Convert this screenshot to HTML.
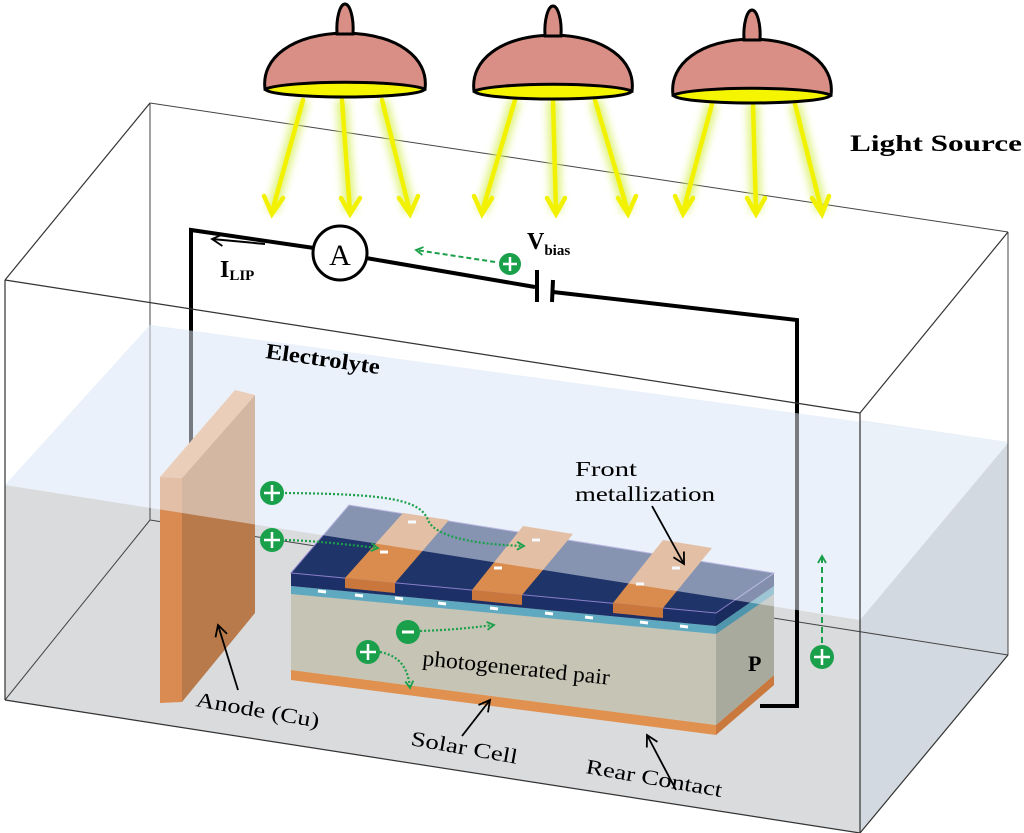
<!DOCTYPE html>
<html><head><meta charset="utf-8"><style>
html,body{margin:0;padding:0;background:#fff;}
svg{display:block;}
text{font-family:"Liberation Serif",serif;}
</style></head><body>
<svg width="1024" height="833" viewBox="0 0 1024 833" xmlns="http://www.w3.org/2000/svg">
<defs>
<filter id="glow" x="-50%" y="-20%" width="200%" height="140%"><feGaussianBlur stdDeviation="4"/></filter>
<marker id="ga" markerWidth="10" markerHeight="10" refX="8" refY="5" orient="auto" markerUnits="userSpaceOnUse"><path d="M1,1 L8,5 L1,9" fill="none" stroke="#1aa04a" stroke-width="1.8"/></marker>
<marker id="ka" markerWidth="14" markerHeight="14" refX="12" refY="7" orient="auto" markerUnits="userSpaceOnUse"><path d="M1,1 L12,7 L1,13" fill="none" stroke="#000" stroke-width="1.8"/></marker>
</defs>

<polygon points="5,485 150,325 1008,442 860,620" fill="#e6eff9"/>
<polygon points="5,485 860,620 860,833 5,700" fill="#dadbdd"/>
<polygon points="860,620 1008,443 1008,655 860,833" fill="#d3d9e0"/>
<polygon points="860,420 1008,442 1008,443 860,620" fill="#e8eff7"/>

<g stroke="#444" stroke-width="1" fill="none">
<line x1="150" y1="103" x2="1008" y2="232"/>
<line x1="150" y1="103" x2="150" y2="520"/>
<line x1="150" y1="520" x2="1008" y2="655"/>
<line x1="150" y1="520" x2="5" y2="700"/>
<line x1="1008" y1="232" x2="1008" y2="655"/>
</g>

<g stroke="#d8f060" stroke-width="12" filter="url(#glow)" opacity="0.8" fill="none">
<line x1="303" y1="100" x2="272" y2="212"/><line x1="342" y1="100" x2="350" y2="212"/><line x1="382" y1="100" x2="410" y2="212"/>
<line x1="515" y1="100" x2="482" y2="212"/><line x1="553" y1="100" x2="556" y2="212"/><line x1="595" y1="100" x2="628" y2="212"/>
<line x1="712" y1="104" x2="683" y2="212"/><line x1="753" y1="104" x2="756" y2="212"/><line x1="795" y1="104" x2="822" y2="212"/>
</g>
<g stroke="#f2f200" stroke-width="4.5" fill="none" stroke-linecap="round">
<line x1="303" y1="100" x2="272" y2="212"/><line x1="342" y1="100" x2="350" y2="212"/><line x1="382" y1="100" x2="410" y2="212"/>
<line x1="515" y1="100" x2="482" y2="212"/><line x1="553" y1="100" x2="556" y2="212"/><line x1="595" y1="100" x2="628" y2="212"/>
<line x1="712" y1="104" x2="683" y2="212"/><line x1="753" y1="104" x2="756" y2="212"/><line x1="795" y1="104" x2="822" y2="212"/>
<path d="M264,196 L272,214 L283,198"/><path d="M341,198 L350,214 L360,198"/><path d="M399,198 L410,214 L418,196"/>
<path d="M474,196 L482,214 L492,198"/><path d="M547,198 L556,214 L565,198"/><path d="M618,198 L628,214 L636,196"/>
<path d="M675,196 L683,214 L693,198"/><path d="M747,198 L756,214 L765,198"/><path d="M812,198 L822,214 L829,196"/>
</g>

<g stroke="#000" stroke-width="3">
<ellipse cx="345" cy="89" rx="80" ry="8" fill="#f5f500"/>
<path d="M265,89 C261,58 292,34 345,33 C398,34 429,58 425,89 C400,80 290,80 265,89 Z" fill="#d98f85"/>
<path d="M337,34 C336,18 340,4 345,4 C350,4 354,18 353,34 Z" fill="#d98f85"/>
<ellipse cx="553" cy="91" rx="79" ry="8" fill="#f5f500"/>
<path d="M474,91 C470,60 501,36 553,35 C605,36 636,60 632,91 C607,82 499,82 474,91 Z" fill="#d98f85"/>
<path d="M545,36 C544,20 548,6 553,6 C558,6 562,20 561,36 Z" fill="#d98f85"/>
<ellipse cx="752" cy="95" rx="79" ry="8" fill="#f5f500"/>
<path d="M673,95 C669,64 700,40 752,39 C804,40 835,64 831,95 C806,86 698,86 673,95 Z" fill="#d98f85"/>
<path d="M744,40 C743,24 747,10 752,10 C757,10 761,24 760,40 Z" fill="#d98f85"/>
</g>

<polyline points="191,448 191,230 314,248" fill="none" stroke="#000" stroke-width="4"/>
<line x1="366" y1="258" x2="535" y2="287" stroke="#000" stroke-width="4"/>
<polyline points="553,292 797,320 797,706 760,706" fill="none" stroke="#000" stroke-width="4"/>
<line x1="537" y1="270" x2="537" y2="302" stroke="#000" stroke-width="4"/>
<line x1="553" y1="280" x2="552" y2="302" stroke="#000" stroke-width="4"/>
<circle cx="340" cy="253" r="27" fill="#fff" stroke="#000" stroke-width="3"/>
<text x="340" y="265" font-size="30" text-anchor="middle">A</text>
<line x1="265" y1="244" x2="212" y2="239" stroke="#000" stroke-width="2" marker-end="url(#ka)"/>
<text x="220" y="277" font-size="24" font-weight="bold">I<tspan font-size="15" dy="3">LIP</tspan></text>
<text x="527" y="249" font-size="24" font-weight="bold">V<tspan font-size="15" dy="6">bias</tspan></text>
<line x1="495" y1="262" x2="416" y2="250" stroke="#1aa04a" stroke-width="2" stroke-dasharray="5,3" marker-end="url(#ga)"/>
<circle cx="510" cy="264" r="11" fill="#1aa04a"/><path d="M503,264 H517 M510,257 V271" stroke="#fff" stroke-width="2.5"/>

<polygon points="160,477 182,478 182,702 160,703" fill="#d98b52"/>
<polygon points="182,478 255,395 255,613 182,702" fill="#b87a4a"/>
<polygon points="160,477 235,390 255,395 182,478" fill="#e8a876"/>

<polygon points="291,670 716,725 716,735 291,680" fill="#e0914f"/>
<polygon points="716,725 774,675 774,685 716,735" fill="#c9783e"/>
<polygon points="291,573 716,613 716,725 291,670" fill="#c5c4b5"/>
<polygon points="716,613 774,573 774,675 716,725" fill="#a9aa9e"/>
<polygon points="291,586 716,626 716,634 291,594" fill="#5fa9c0"/>
<polygon points="716,626 774,586 774,594 716,634" fill="#4f96ad"/>
<polygon points="291,573 716,613 716,626 291,586" fill="#1c2f66"/>
<polygon points="716,613 774,573 774,586 716,626" fill="#1a2b5e"/>
<polygon points="291,573 349,505 774,573 716,613" fill="#1f3468" stroke="#8a7fc8" stroke-width="1"/>
<g fill="#d98c4e">
<polygon points="345,578 395,583 449,520 403,513"/>
<polygon points="472,590 522,595 573,534 523,526"/>
<polygon points="613,603 663,608 712,548 663,540"/>
</g>
<g fill="#c9773c">
<polygon points="345,578 395,583 395,593 345,588"/>
<polygon points="472,590 522,595 522,605 472,600"/>
<polygon points="613,603 663,608 663,618 613,613"/>
</g>
<g stroke="#fff" stroke-width="3">
<line x1="380" y1="552" x2="388" y2="552"/><line x1="408" y1="522" x2="416" y2="522"/>
<line x1="494" y1="568" x2="502" y2="568"/><line x1="532" y1="540" x2="540" y2="540"/>
<line x1="636" y1="584" x2="644" y2="584"/><line x1="672" y1="568" x2="680" y2="568"/>
<line x1="318" y1="591" x2="326" y2="592"/><line x1="355" y1="595" x2="363" y2="596"/><line x1="395" y1="598" x2="403" y2="599"/>
<line x1="438" y1="603" x2="446" y2="604"/><line x1="490" y1="608" x2="498" y2="609"/><line x1="545" y1="613" x2="553" y2="614"/>
<line x1="585" y1="617" x2="593" y2="618"/><line x1="640" y1="622" x2="648" y2="623"/><line x1="680" y1="626" x2="688" y2="627"/>
</g>
<text x="748" y="671" font-size="22" font-weight="bold">P</text>

<polygon points="5,485 150,325 1008,442 860,620" fill="#eef4fb" fill-opacity="0.5"/>

<g stroke="#333" stroke-width="1.2" fill="none">
<line x1="150" y1="103" x2="5" y2="280"/>
<line x1="1008" y1="232" x2="860" y2="413"/>
<line x1="5" y1="280" x2="860" y2="413"/>
<line x1="5" y1="280" x2="5" y2="700"/>
<line x1="860" y1="413" x2="860" y2="833"/>
<line x1="5" y1="700" x2="860" y2="833"/>
<line x1="1008" y1="655" x2="860" y2="833"/>
</g>

<g fill="none" stroke="#1aa04a" stroke-width="2.2" stroke-dasharray="2,2">
<path d="M285,493 C390,494 420,500 428,520 C436,540 490,545 524,546" marker-end="url(#ga)"/>
<path d="M285,540 C320,541 350,545 378,548" marker-end="url(#ga)"/>
<path d="M420,631 C450,630 470,628 494,625" marker-end="url(#ga)"/>
<path d="M380,652 C400,656 408,668 410,688" marker-end="url(#ga)"/>
</g>
<line x1="822" y1="643" x2="822" y2="556" stroke="#1aa04a" stroke-width="2" stroke-dasharray="6,4" marker-end="url(#ga)"/>
<g>
<circle cx="272" cy="493" r="12" fill="#1aa04a"/><path d="M264,493 H280 M272,485 V501" stroke="#fff" stroke-width="2.5"/>
<circle cx="272" cy="540" r="12" fill="#1aa04a"/><path d="M264,540 H280 M272,532 V548" stroke="#fff" stroke-width="2.5"/>
<circle cx="368" cy="652" r="12" fill="#1aa04a"/><path d="M360,652 H376 M368,644 V660" stroke="#fff" stroke-width="2.5"/>
<circle cx="408" cy="632" r="12" fill="#1aa04a"/><path d="M402,632 H414" stroke="#fff" stroke-width="3"/>
<circle cx="822" cy="657" r="12" fill="#1aa04a"/><path d="M814,657 H830 M822,649 V665" stroke="#fff" stroke-width="2.5"/>
</g>

<g stroke="#000" stroke-width="1.8" fill="none">
<line x1="238" y1="690" x2="218" y2="625" marker-end="url(#ka)"/>
<line x1="462" y1="736" x2="490" y2="700" marker-end="url(#ka)"/>
<line x1="676" y1="790" x2="647" y2="735" marker-end="url(#ka)"/>
<line x1="652" y1="506" x2="684" y2="564" marker-end="url(#ka)"/>
</g>

<text x="850" y="151" font-size="23" font-weight="bold" textLength="172" lengthAdjust="spacingAndGlyphs">Light Source</text>
<text x="265" y="358" font-size="22" font-weight="bold" transform="rotate(8 265 358)" textLength="115" lengthAdjust="spacingAndGlyphs">Electrolyte</text>
<text x="575" y="476" font-size="21" textLength="62" lengthAdjust="spacingAndGlyphs">Front</text>
<text x="575" y="501" font-size="21" textLength="140" lengthAdjust="spacingAndGlyphs">metallization</text>
<text x="422" y="665" font-size="22" transform="rotate(6 422 665)" textLength="188" lengthAdjust="spacingAndGlyphs">photogenerated pair</text>
<text x="195" y="706" font-size="21" transform="rotate(10 195 706)" textLength="125" lengthAdjust="spacingAndGlyphs">Anode (Cu)</text>
<text x="410" y="745" font-size="21" transform="rotate(10 410 745)" textLength="108" lengthAdjust="spacingAndGlyphs">Solar Cell</text>
<text x="585" y="773" font-size="21" transform="rotate(10 585 773)" textLength="138" lengthAdjust="spacingAndGlyphs">Rear Contact</text>
</svg>
</body></html>
